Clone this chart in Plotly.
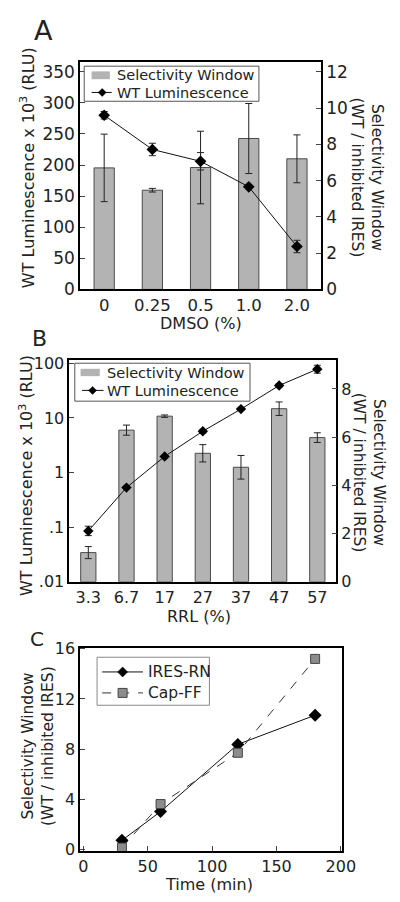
import plotly.graph_objects as go

# ---------------- data ----------------
dmso_labels = ["0", "0.25", "0.5", "1.0", "2.0"]
dmso_window = [6.70, 5.47, 6.72, 8.32, 7.20]
dmso_window_err = [1.86, 0.10, 2.00, 1.93, 1.32]
dmso_lum = [280, 225, 206, 165, 69]
dmso_lum_err = [6, 10, 14, 2, 10]

rrl_labels = ["3.3", "6.7", "17", "27", "37", "47", "57"]
rrl_window = [1.21, 6.29, 6.87, 5.33, 4.75, 7.18, 5.98]
rrl_window_err = [0.25, 0.21, 0.05, 0.36, 0.49, 0.28, 0.20]
rrl_lum = [0.085, 0.53, 1.97, 5.7, 14.5, 39.2, 78]
rrl_lum_err_plus = [0.019, 0.03, 0.10, 0.40, 0.70, 2.5, 14]
rrl_lum_err_minus = [0.015, 0.03, 0.10, 0.40, 0.70, 2.5, 12]

time_min = [30, 60, 120, 180]
ires_rn = [0.70, 3.00, 8.37, 10.70]
cap_ff = [0.12, 3.60, 7.70, 15.20]

FONT = "DejaVu Sans"
BAR_FILL = "#b3b3b3"
BAR_LINE = "#4a4a4a"
SQ_FILL = "#8c8c8c"

W, H = 400, 902


def px_x(x):
    return x / W


def px_y(y):
    return 1 - y / H


fig = go.Figure()

# ---------------- Panel A ----------------
fig.add_trace(go.Bar(
    x=dmso_labels, y=dmso_window, name="Selectivity Window",
    marker=dict(color=BAR_FILL, line=dict(color=BAR_LINE, width=1)),
    width=0.42,
    error_y=dict(type="data", array=dmso_window_err, color="#222", thickness=1, width=3.5),
    xaxis="x", yaxis="y", showlegend=False,
))
fig.add_trace(go.Scatter(
    x=dmso_labels, y=dmso_lum, name="WT Luminescence", mode="lines+markers",
    line=dict(color="#111", width=1),
    marker=dict(symbol="diamond", size=9, color="#000"),
    error_y=dict(type="data", array=dmso_lum_err, color="#222", thickness=1, width=3.5),
    xaxis="x", yaxis="y2", showlegend=False,
))

# ---------------- Panel B ----------------
fig.add_trace(go.Bar(
    x=rrl_labels, y=rrl_window, name="Selectivity Window",
    marker=dict(color=BAR_FILL, line=dict(color=BAR_LINE, width=1)),
    width=0.4,
    error_y=dict(type="data", array=rrl_window_err, color="#222", thickness=1, width=3.5),
    xaxis="x2", yaxis="y3", showlegend=False,
))
fig.add_trace(go.Scatter(
    x=rrl_labels, y=rrl_lum, name="WT Luminescence", mode="lines+markers",
    line=dict(color="#111", width=1),
    marker=dict(symbol="diamond", size=8, color="#000"),
    error_y=dict(type="data", symmetric=False, array=rrl_lum_err_plus,
                 arrayminus=rrl_lum_err_minus, color="#222", thickness=1, width=3.5),
    xaxis="x2", yaxis="y4", showlegend=False,
))

# ---------------- Panel C ----------------
fig.add_trace(go.Scatter(
    x=time_min, y=ires_rn, name="IRES-RN", mode="lines+markers",
    line=dict(color="#111", width=1),
    marker=dict(symbol="diamond", size=10, color="#000"),
    xaxis="x3", yaxis="y5", showlegend=False,
))
fig.add_trace(go.Scatter(
    x=time_min, y=cap_ff, name="Cap-FF", mode="lines+markers",
    line=dict(color="#333", width=1, dash="dash"),
    marker=dict(symbol="square", size=9, color=SQ_FILL, line=dict(color="#444", width=1)),
    xaxis="x3", yaxis="y5", showlegend=False,
))


def tf(size):
    return dict(family=FONT, size=size, color="#222")


axis_common = dict(showline=True, linecolor="#000", linewidth=1.5, showgrid=False,
                   zeroline=False)

dA = [px_x(73), px_x(324)]
yA = [px_y(279), px_y(46.7)]
dB = [px_x(61.7), px_x(340)]
yB = [px_y(577.3), px_y(351)]
dC = [px_x(73), px_x(346)]
yC = [px_y(852), px_y(644.5)]

fig.update_layout(
    width=W, height=H, autosize=False,
    margin=dict(l=0, r=0, t=0, b=0),
    paper_bgcolor="white", plot_bgcolor="white",
    font=dict(family=FONT, color="#222"),
    showlegend=False,
    xaxis=dict(domain=dA, anchor="y", type="category", mirror=True, ticks="",
               tickfont=tf(16.5), **axis_common),
    yaxis=dict(domain=yA, anchor="x", side="right", range=[0, 12.55],
               tickvals=[0, 2, 4, 6, 8, 10, 12], ticks="inside", ticklen=5,
               tickfont=tf(17), **axis_common),
    yaxis2=dict(overlaying="y", anchor="x", side="left", range=[0, 366],
                tickvals=[0, 50, 100, 150, 200, 250, 300, 350], ticks="inside", ticklen=5,
                tickfont=tf(17), **axis_common),
    xaxis2=dict(domain=dB, anchor="y3", type="category", mirror=True, ticks="",
                tickfont=tf(16), **axis_common),
    yaxis3=dict(domain=yB, anchor="x2", side="right", range=[0, 9.2],
                tickvals=[0, 2, 4, 6, 8], ticks="inside", ticklen=5,
                tickfont=tf(16), **axis_common),
    yaxis4=dict(overlaying="y3", anchor="x2", side="left", type="log", range=[-2, 2.06],
                tickvals=[0.01, 0.1, 1, 10, 100], ticktext=[".01", ".1", "1", "10", "100"],
                ticks="inside", ticklen=5, tickfont=tf(16), **axis_common),
    xaxis3=dict(domain=dC, anchor="y5", range=[-2.5, 201], mirror=True,
                tickvals=[0, 50, 100, 150, 200], ticks="inside", ticklen=5,
                tickfont=tf(16), **axis_common),
    yaxis5=dict(domain=yC, anchor="x3", range=[-0.15, 16.1], mirror=True,
                tickvals=[0, 4, 8, 12, 16], ticks="inside", ticklen=5,
                tickfont=tf(16), **axis_common),
)

ann = []
shapes = []


def add_text(text, x, y, size, angle=0, anchor="center"):
    ann.append(dict(text=text, x=px_x(x), y=px_y(y), xref="paper", yref="paper",
                    showarrow=False, textangle=angle, xanchor=anchor, yanchor="middle",
                    font=tf(size)))


def box(x0, y0, x1, y1, color):
    shapes.append(dict(type="rect", xref="paper", yref="paper",
                       x0=px_x(x0), x1=px_x(x1), y0=px_y(y1), y1=px_y(y0),
                       line=dict(color=color, width=1), fillcolor="white", layer="above"))


def swatch(x0, y0, x1, y1, fill):
    shapes.append(dict(type="rect", xref="paper", yref="paper",
                       x0=px_x(x0), x1=px_x(x1), y0=px_y(y1), y1=px_y(y0),
                       line=dict(width=0), fillcolor=fill, layer="above"))


def seg(x0, x1, y, dash="solid", color="#111"):
    shapes.append(dict(type="line", xref="paper", yref="paper",
                       x0=px_x(x0), x1=px_x(x1), y0=px_y(y), y1=px_y(y),
                       line=dict(color=color, width=1, dash=dash), layer="above"))


def diamond(x, y, r, fill="#000"):
    shapes.append(dict(type="path", xref="paper", yref="paper",
                       xsizemode="pixel", ysizemode="pixel",
                       xanchor=px_x(x), yanchor=px_y(y),
                       path=f"M0,{r} L{r},0 L0,{-r} L{-r},0 Z",
                       fillcolor=fill, line=dict(color=fill, width=0.5), layer="above"))


def square(x, y, r, fill=SQ_FILL):
    shapes.append(dict(type="path", xref="paper", yref="paper",
                       xsizemode="pixel", ysizemode="pixel",
                       xanchor=px_x(x), yanchor=px_y(y),
                       path=f"M{-r},{-r} L{r},{-r} L{r},{r} L{-r},{r} Z",
                       fillcolor=fill, line=dict(color="#444", width=1), layer="above"))


LEG = 14.5

# Legend A
box(77.3, 51.2, 259.3, 87, "#555")
swatch(85, 56.5, 104, 64.5, BAR_FILL)
add_text("Selectivity Window", 109.5, 60.5, LEG, anchor="left")
seg(85, 106, 78)
diamond(96, 78, 4)
add_text("WT Luminescence", 109.5, 78.5, LEG, anchor="left")

# Legend B
box(67.5, 354.3, 250, 393, "#555")
swatch(73.5, 360, 93.5, 367.5, BAR_FILL)
add_text("Selectivity Window", 99, 364, LEG, anchor="left")
seg(75, 97.5, 382)
diamond(86, 382, 4)
add_text("WT Luminescence", 99, 382.5, LEG, anchor="left")

# Legend C
box(90.7, 654.3, 207.7, 703.3, "#888")
seg(96, 138.5, 669.3)
diamond(117.3, 669.3, 5)
add_text("IRES-RN", 141.5, 669.5, 15.5, anchor="left")
seg(96, 138.5, 690.7, dash="dash", color="#333")
square(117.3, 690.7, 4.5)
add_text("Cap-FF", 141.5, 691, 15.5, anchor="left")

# panel letters
add_text("A", 35, 15, 27)
add_text("B", 31, 329, 22)
add_text("C", 28, 636, 20)

# Panel A titles
add_text("WT Luminescence x 10<sup>3</sup> (RLU)", 19, 155, 16, angle=-90)
add_text("Selectivity Window<br>(WT / inhibited IRES)", 372, 165, 15.5, angle=90)
add_text("DMSO (%)", 199, 314, 16)

# Panel B titles
add_text("WT Luminescence x 10<sup>3</sup> (RLU)", 17, 469, 16, angle=-90)
add_text("Selectivity Window<br>(WT / inhibited IRES)", 374, 466, 15.5, angle=90)
add_text("RRL (%)", 197, 613, 16)

# Panel C titles
add_text("Selectivity Window<br>(WT / inhibited IRES)", 29, 745, 15.5, angle=-90)
add_text("Time (min)", 207, 886, 16)

fig.update_layout(annotations=ann, shapes=shapes)

fig.write_html("out.html")
